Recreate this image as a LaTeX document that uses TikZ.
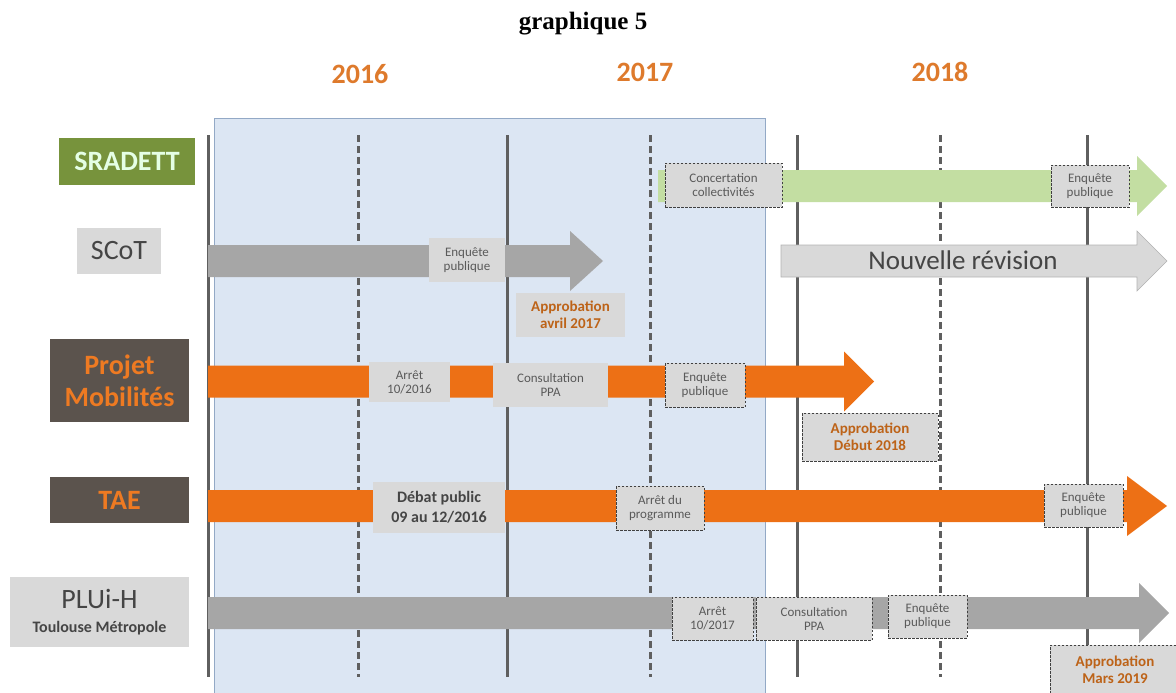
\documentclass[tikz,border=0pt]{standalone}
\usepackage{fontspec}
\setmainfont{Carlito}
\newfontfamily\titlefont{Liberation Serif}
\usepackage{tikz}

\definecolor{yearorange}{HTML}{DE7A2C}
\definecolor{periodblue}{HTML}{DCE6F3}
\definecolor{periodedge}{HTML}{93A9C6}
\definecolor{tickgrey}{HTML}{5F5F5F}
\definecolor{sradettgreen}{HTML}{77933C}
\definecolor{greenshaft}{HTML}{C3DEA2}
\definecolor{boxgrey}{HTML}{D9D9D9}
\definecolor{shaftgrey}{HTML}{A6A6A6}
\definecolor{shaftorange}{HTML}{ED7015}
\definecolor{darkbox}{HTML}{5B534D}
\definecolor{labelorange}{HTML}{EE7A22}
\definecolor{darktext}{HTML}{454545}
\definecolor{stagetext}{HTML}{5A5A5A}
\definecolor{approbtext}{HTML}{BD6318}

\begin{document}
\begin{tikzpicture}[x=1pt,y=-1pt,
  rowlabel/.style={inner sep=0pt, align=center},
  stage/.style={fill=boxgrey, inner sep=0pt, align=center, text=stagetext, font=\fontsize{13}{14}\selectfont},
  stagedash/.style={stage, draw=black!75, dashed, dash pattern=on 2.5pt off 1.5pt, line width=0.8pt},
  approb/.style={text=approbtext, font=\bfseries\fontsize{15}{17}\selectfont},
  year/.style={text=yearorange, font=\bfseries\fontsize{28}{30}\selectfont},
  tick/.style={draw=tickgrey, line width=3pt},
  greenarrow/.style={fill=greenshaft},
  greyarrow/.style={fill=shaftgrey},
  lightarrow/.style={fill=boxgrey, draw=black!30, line width=0.6pt},
  orangearrow/.style={fill=shaftorange}]

\useasboundingbox (0,0) rectangle (1176,693);

\node[font=\titlefont\bfseries\fontsize{25}{27}\selectfont] (title) at (583,24) {graphique 5};
\node[year] (y2016) at (360,74) {2016};
\node[year] (y2017) at (645,72) {2017};
\node[year] (y2018) at (940,72) {2018};

% period already covered
\fill[periodblue, draw=periodedge, line width=0.8pt] (214,118) rectangle (765,693);

\foreach \x in {208,507,797,1087}
	\draw[tick] (\x,135)--(\x,677);
\foreach \x in {358,650,940}
	\draw[tick, dash pattern=on 7pt off 4pt] (\x,135)--(\x,677);

% block arrows: start/head/tip/centre
\foreach \xa/\xh/\xt/\yc/\sty in {658/1137/1167/186/greenarrow, 208/570/603/261/greyarrow,
	781/1137/1167/261/lightarrow, 208/844/874/381.5/orangearrow,
	208/1127/1167/506/orangearrow, 208/1139/1169/613/greyarrow}{
	\path[\sty] (\xa,\yc-16)--(\xh,\yc-16)--(\xh,\yc-30)--(\xt,\yc)--(\xh,\yc+30)--(\xh,\yc+16)--(\xa,\yc+16)--cycle;
}

% row labels
\node[rowlabel, fill=sradettgreen, text=white!90!green, font=\bfseries\fontsize{28}{30}\selectfont,
	minimum width=136, minimum height=47] (sradett) at (127,161.5) {SRADETT};
\node[rowlabel, fill=boxgrey, text=darktext, font=\fontsize{28}{30}\selectfont,
	minimum width=84, minimum height=46] (scot) at (119,251) {SCoT};
\node[rowlabel, fill=darkbox, text=labelorange, font=\bfseries\fontsize{28}{32}\selectfont,
	minimum width=139, minimum height=83] (mobilites) at (119.5,380.5) {Projet\\Mobilités};
\node[rowlabel, fill=darkbox, text=labelorange, font=\bfseries\fontsize{28}{30}\selectfont,
	minimum width=139, minimum height=46] (tae) at (119.5,500) {TAE};
\node[rowlabel, fill=boxgrey, text=darktext, font=\fontsize{28}{30}\selectfont,
	minimum width=179, minimum height=70] (pluih) at (99.5,612)
	{PLUi-H\\[-6pt]{\fontsize{16}{18}\selectfont\bfseries Toulouse Métropole}};

% SRADETT
\node[stagedash, minimum width=117, minimum height=44] (concert) at (723.5,185) {Concertation\\collectivités};
\node[stagedash, minimum width=78, minimum height=42] (enqsradett) at (1090,186) {Enquête\\publique};

% SCoT
\node[stage, minimum width=76, minimum height=44] (enqscot) at (467,260) {Enquête\\publique};
\node[stage, approb, minimum width=109, minimum height=44] (approbscot) at (570.5,315) {Approbation\\avril 2017};
\node[text=darktext, font=\fontsize{27}{29}\selectfont] (revision) at (963,260) {Nouvelle révision};

% Projet Mobilites
\node[stage, minimum width=81, minimum height=40] (arretmob) at (409.5,382) {Arrêt\\10/2016};
\node[stage, minimum width=115, minimum height=44] (consmob) at (550.5,385) {Consultation\\PPA};
\node[stagedash, minimum width=80, minimum height=44] (enqmob) at (705,385) {Enquête\\publique};
\node[stagedash, approb, minimum width=136, minimum height=48] (approbmob) at (870,437) {Approbation\\Début 2018};

% TAE
\node[stage, text=darktext, font=\bfseries\fontsize{16}{20}\selectfont,
	minimum width=132, minimum height=51] (debat) at (439,507.5) {Débat public\\09 au 12/2016};
\node[stagedash, minimum width=88, minimum height=44] (arrettae) at (660,508) {Arrêt du\\programme};
\node[stagedash, minimum width=79, minimum height=43] (enqtae) at (1083.5,505.5) {Enquête\\publique};

% PLUi-H
\node[stagedash, minimum width=81, minimum height=43] (arretplu) at (712.5,618.5) {Arrêt\\10/2017};
\node[stagedash, minimum width=116, minimum height=43] (consplu) at (814,618.5) {Consultation\\PPA};
\node[stagedash, minimum width=79, minimum height=43] (enqplu) at (927.5,616.5) {Enquête\\publique};
\node[stagedash, approb, minimum width=130, minimum height=50] (approbplu) at (1115,670) {Approbation\\Mars 2019};

\end{tikzpicture}
\end{document}
